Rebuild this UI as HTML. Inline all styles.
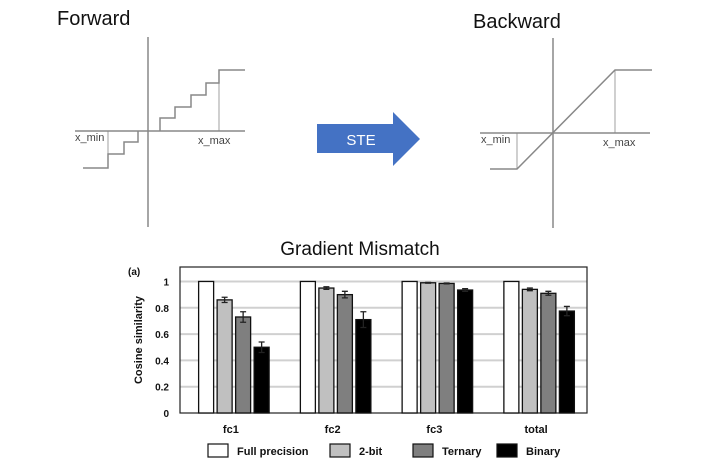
<!DOCTYPE html>
<html><head><meta charset="utf-8"><style>
body{margin:0;background:#fff;width:720px;height:467px;overflow:hidden;font-family:"Liberation Sans",sans-serif}
</style></head><body>
<svg width="720" height="467" viewBox="0 0 720 467" xmlns="http://www.w3.org/2000/svg">
<g stroke="#888" fill="none" stroke-width="1.5">
<text x="57" y="25" font-size="20" fill="#111" stroke="none">Forward</text>
<line x1="148" y1="37" x2="148" y2="227"/>
<line x1="75" y1="131" x2="245" y2="131"/>
<polyline points="83,168 108,168 108,154 124,154 124,142 138,142 138,131"/>
<polyline points="160,131 160,118 175,118 175,107 191,107 191,95 206,95 206,83 219,83 219,70 245,70"/>
<line x1="219" y1="70" x2="219" y2="131" stroke-width="0.8"/>
<line x1="108" y1="131" x2="108" y2="154" stroke-width="0.8"/>
<text x="75" y="141" font-size="11" fill="#444" stroke="none">x_min</text>
<text x="198" y="144" font-size="11" fill="#444" stroke="none">x_max</text>
</g>
<g>
<polygon points="317,124 393,124 393,112 420,139 393,166 393,153 317,153" fill="#4472c4"/>
<text x="361" y="145" font-size="15" fill="#fff" text-anchor="middle">STE</text>
</g>
<g stroke="#888" fill="none" stroke-width="1.5">
<text x="473" y="28" font-size="20" fill="#111" stroke="none">Backward</text>
<line x1="553" y1="38" x2="553" y2="228"/>
<line x1="480" y1="133" x2="650" y2="133"/>
<polyline points="490,169 517,169 615,70 652,70"/>
<line x1="615" y1="70" x2="615" y2="133" stroke-width="0.8"/>
<line x1="517" y1="133" x2="517" y2="169" stroke-width="0.8"/>
<text x="481" y="143" font-size="11" fill="#444" stroke="none">x_min</text>
<text x="603" y="146" font-size="11" fill="#444" stroke="none">x_max</text>
</g>
<text x="360" y="255" font-size="19" fill="#111" text-anchor="middle">Gradient Mismatch</text>
<g id="chart"></g>
</svg>
<script>
const categories=["fc1","fc2","fc3","total"];
const seriesNames=["Full precision","2-bit","Ternary","Binary"];
const fullPrecision=[1,1,1,1];
const twoBit=[0.86,0.95,0.99,0.94];
const ternary=[0.73,0.90,0.985,0.91];
const binary=[0.50,0.71,0.935,0.775];
const errTwoBit=[0.02,0.01,0.003,0.01];
const errTernary=[0.04,0.025,0.003,0.015];
const errBinary=[0.04,0.06,0.01,0.035];
const yTicks=[0,0.2,0.4,0.6,0.8,1];
const yTickLabels=["0","0.2","0.4","0.6","0.8","1"];
const series=[fullPrecision,twoBit,ternary,binary];
const errs=[null,errTwoBit,errTernary,errBinary];
const colors=["#fff","#c0c0c0","#7f7f7f","#000"];
const NS="http://www.w3.org/2000/svg";
const g=document.getElementById("chart");
const X0=180,X1=587,Y0=413,YT=267,YMAX=1.11;
const y=v=>Y0-v/YMAX*(Y0-YT);
const gw=(X1-X0)/categories.length;
const bw=15,step=18.5;
const bx=(c,s)=>X0+c*gw+gw/2-2*step+s*step+(step-bw)/2+3;
function el(t,a,p){const e=document.createElementNS(NS,t);for(const k in a)e.setAttribute(k,a[k]);(p||g).appendChild(e);return e;}
yTicks.forEach((t,i)=>{
 if(t>0){const l=el("line",{x1:X0,x2:X1,y1:y(t),y2:y(t),stroke:"#d0d0d0","stroke-width":2});
 
 }
 const tx=el("text",{x:X0-11,y:y(t)+4,"font-size":10,"font-weight":"bold","text-anchor":"end",fill:"#111"});
 tx.textContent=yTickLabels[i];
 
 
});
const fr=el("rect",{x:X0,y:YT,width:X1-X0,height:Y0-YT,fill:"none",stroke:"#222","stroke-width":1.2});


categories.forEach((c,ci)=>{
 series.forEach((s,si)=>{
  const x=bx(ci,si);
  const r=el("rect",{x:x,y:y(s[ci]),width:bw,height:Y0-y(s[ci]),fill:colors[si],stroke:"#111","stroke-width":1.3});
  
  
  if(errs[si]){const e=errs[si][ci],cx=x+bw/2;
   const p=el("path",{d:`M${cx},${y(s[ci]+e)}V${y(s[ci]-e)}M${cx-3},${y(s[ci]+e)}h6M${cx-3},${y(s[ci]-e)}h6`,stroke:"#222","stroke-width":1.3,fill:"none"});
   
   }
 });
 const t=el("text",{x:X0+ci*gw+gw/2,y:433,"font-size":11,"font-weight":"bold","text-anchor":"middle",fill:"#111"});
 t.textContent=c;
 
 
});
const yl=el("text",{x:0,y:0,"font-size":11,"font-weight":"bold","text-anchor":"middle",fill:"#111",transform:`translate(142,340) rotate(-90)`});
yl.textContent="Cosine similarity";


const pa=el("text",{x:128,y:275,"font-size":10,"font-weight":"bold",fill:"#111"});
pa.textContent="(a)";


const lx=[208,330,413,497];
seriesNames.forEach((n,i)=>{
 const r=el("rect",{x:lx[i],y:444,width:20,height:13,fill:colors[i],stroke:"#111","stroke-width":1.2});
 
 
 const t=el("text",{x:lx[i]+29,y:455,"font-size":11,"font-weight":"bold",fill:"#111"});
 t.textContent=n;
 
 
});
</script>
</body></html>
